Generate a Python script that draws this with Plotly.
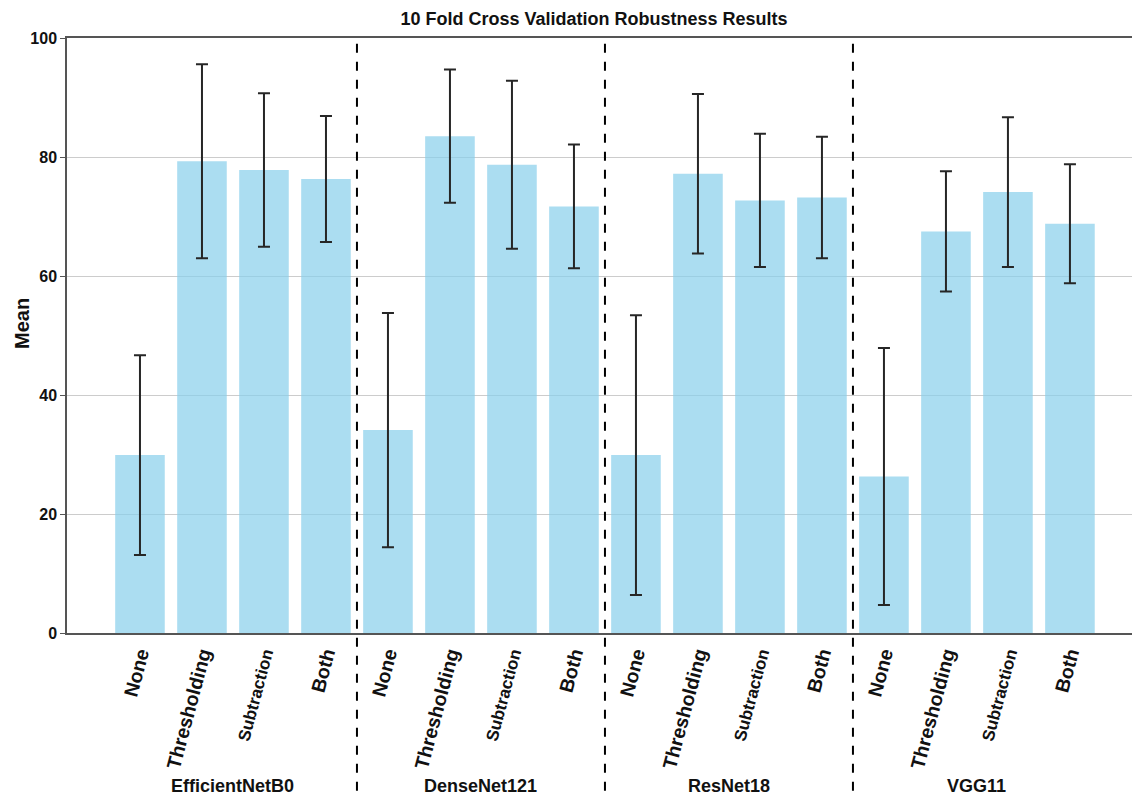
import plotly.graph_objects as go

models = ["EfficientNetB0", "DenseNet121", "ResNet18", "VGG11"]
methods = ["None", "Thresholding", "Subtraction", "Both"]

means = [
    29.9, 79.3, 77.8, 76.3,   # EfficientNetB0
    34.1, 83.5, 78.7, 71.7,   # DenseNet121
    29.9, 77.2, 72.7, 73.2,   # ResNet18
    26.3, 67.5, 74.1, 68.8,   # VGG11
]
errors = [
    16.8, 16.3, 12.9, 10.6,
    19.7, 11.2, 14.1, 10.4,
    23.5, 13.4, 11.2, 10.2,
    21.6, 10.1, 12.6, 10.0,
]
y_ticks = [0, 20, 40, 60, 80, 100]

n_m = len(methods)
xpos = list(range(len(models) * n_m))


def fmt(label):
    if label == "Subtraction":
        return "<span style='font-size:17px'>%s</span>" % label
    return label


ticktext = [fmt(methods[i % n_m]) for i in xpos]

FONT = "Liberation Sans, Arial, sans-serif"

fig = go.Figure()
fig.add_trace(go.Bar(
    x=xpos, y=means, width=0.8,
    marker=dict(color="rgba(135,206,235,0.7)", line=dict(width=0)),
    error_y=dict(type="data", array=errors, visible=True,
                 color="#262626", thickness=2, width=6),
    showlegend=False,
))

# group separators
for g in range(1, len(models)):
    xs = g * n_m - 0.5
    fig.add_shape(type="line", xref="x", yref="paper",
                  x0=xs, x1=xs, y0=-0.265, y1=1.0,
                  line=dict(color="black", width=2, dash="dash"))

# group labels
for g, m in enumerate(models):
    fig.add_annotation(x=g * n_m + (n_m - 1) / 2, y=-0.257,
                       xref="x", yref="paper", text="<b>%s</b>" % m,
                       showarrow=False, xanchor="center", yanchor="middle",
                       font=dict(size=18, color="#111"))

# y title
fig.add_annotation(x=-0.0425, y=0.52, xref="paper", yref="paper",
                   text="<b>Mean</b>", textangle=-90, showarrow=False,
                   xanchor="center", yanchor="middle",
                   font=dict(size=20, color="#111"))

fig.update_layout(
    width=1140, height=803,
    margin=dict(l=59, r=8, t=30, b=178, autoexpand=False),
    paper_bgcolor="white", plot_bgcolor="white",
    font=dict(family=FONT, color="#111"),
    title=dict(text="<b>10 Fold Cross Validation Robustness Results</b>",
               x=0.514, xanchor="center", y=1 - 11 / 803, yanchor="middle",
               font=dict(size=18, color="#111")),
    bargap=0.2,
)
fig.update_xaxes(
    range=[-1.177, 16.13], tickmode="array", tickvals=xpos, ticktext=ticktext,
    tickangle=-75, tickfont=dict(size=19.5, weight="bold", color="#111"),
    showgrid=False, zeroline=False, showline=True, linecolor="#555",
    linewidth=1.5, mirror=True, ticks="", ticklen=0,
)
fig.update_yaxes(
    range=[0, 100], tickvals=y_ticks,
    tickfont=dict(size=16, weight="bold", color="#111"),
    showgrid=True, gridcolor="#cccccc", gridwidth=1.3, zeroline=False,
    showline=True, linecolor="#555", linewidth=1.5,
    ticks="outside", ticklen=5, tickcolor="#555",
)

fig.write_html("out.html")
